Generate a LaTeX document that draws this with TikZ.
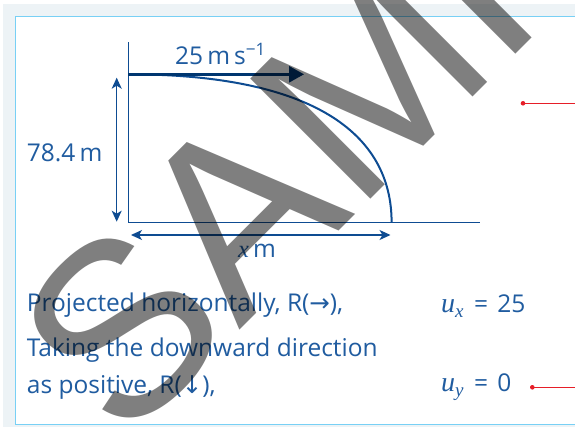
\documentclass[tikz,border=0pt]{standalone}
\usepackage{fontspec}
\setmainfont{Open Sans}
\newfontfamily\symf{DejaVu Sans}
\newfontfamily\wmfont{Liberation Sans}
\newfontfamily\serf{Liberation Serif}
\usetikzlibrary{arrows.meta}
\definecolor{bggray}{RGB}{237,243,246}
\definecolor{boxblue}{RGB}{120,208,245}
\definecolor{lineblue}{RGB}{14,76,146}
\definecolor{darknavy}{RGB}{0,54,112}
\definecolor{txtblue}{RGB}{32,92,160}
\definecolor{pinred}{RGB}{230,30,40}
\newcommand{\ivar}[1]{{\serf\itshape #1}}
\newcommand{\isub}[2]{{\serf\itshape\fontsize{28}{28}\selectfont #1\raisebox{-5pt}{\fontsize{19}{19}\selectfont #2}}}
\tikzset{
  axisline/.style={draw=lineblue, line width=1.3pt},
  trajline/.style={draw=lineblue, line width=2pt},
  velarrow/.style={draw=darknavy, line width=2.6pt, -{Triangle[length=15pt,width=16pt]}},
  dimarrow/.style={draw=lineblue, line width=1.3pt, {Stealth[length=11pt,width=10pt,inset=3pt]}-{Stealth[length=11pt,width=10pt,inset=3pt]}},
  lbl/.style={anchor=base west, inner sep=0pt, text=txtblue, font=\fontsize{24.5}{28}\selectfont},
  rowtxt/.style={anchor=base west, inner sep=0pt, text=txtblue, font=\fontsize{24.5}{28}\selectfont},
  pinline/.style={draw=pinred, line width=1pt},
  pindot/.style={fill=pinred}
}
\begin{document}
\begin{tikzpicture}[x=1pt,y=-1pt]
\useasboundingbox (0,0) rectangle (575,427);
\fill[bggray] (3,4) rectangle (575,427);
\draw[fill=white, draw=boxblue, line width=1.5pt] (15.5,16.5) rectangle (585,424.5);

% axes
\coordinate (axtop) at (128.3,42.5);
\coordinate (O) at (128.3,74.3);
\coordinate (G) at (128.3,222.3);
\coordinate (Gend) at (480,222.3);
\coordinate (L) at (391.6,222.3);
\coordinate (vtip) at (304,74.3);
\draw[axisline] (axtop) -- (G) -- (Gend);

% trajectory
\draw[trajline] (O) .. controls (312.6,74.3) and (391.6,133.5) .. (L);

% velocity arrow
\draw[velarrow] (O) -- (vtip);

% dimension arrows
\coordinate (vt) at (116.7,77.7);
\coordinate (vb) at (116.7,221.7);
\draw[dimarrow] (vt) -- (vb);
\coordinate (hl) at (131,235);
\coordinate (hr) at (390.5,235);
\draw[dimarrow] (hl) -- (hr);

% labels
\node[lbl] (v) at (175,64.3) {25\,m\,s\textsuperscript{−1}};
\node[lbl] (h) at (26.7,161.7) {78.4\,m};
\node[lbl] (xm) at (238,257.3) {\ivar{x}\,m};

% rows
\node[rowtxt] (r1) at (26.7,311.7) {Projected horizontally, R({\symf →}),};
\node[rowtxt] (r2) at (26.7,356) {Taking the downward direction};
\node[rowtxt] (r3) at (26.7,393.3) {as positive, R({\symf ↓}),};
\node[rowtxt] (ux) at (441,312.7) {\isub{u}{x}\hspace{4pt} = \hspace{3pt}25};
\node[rowtxt] (uy) at (441,391.7) {\isub{u}{y}\hspace{4pt} = \hspace{3pt}0};

% red pins
\coordinate (p1) at (523,103.3);
\coordinate (p1e) at (576,103.3);
\draw[pinline] (p1) -- (p1e);
\fill[pindot] (p1) circle (2.3);
\coordinate (p2) at (532.3,387.3);
\coordinate (p2e) at (576,387.3);
\draw[pinline] (p2) -- (p2e);
\fill[pindot] (p2) circle (2.3);

% watermark
\node[rotate=45, anchor=base west, inner sep=0pt, text=black, opacity=0.5,
      font=\fontsize{247}{247}\selectfont\wmfont] (wm) at (123,447) {SAMPLE};
\end{tikzpicture}
\end{document}
